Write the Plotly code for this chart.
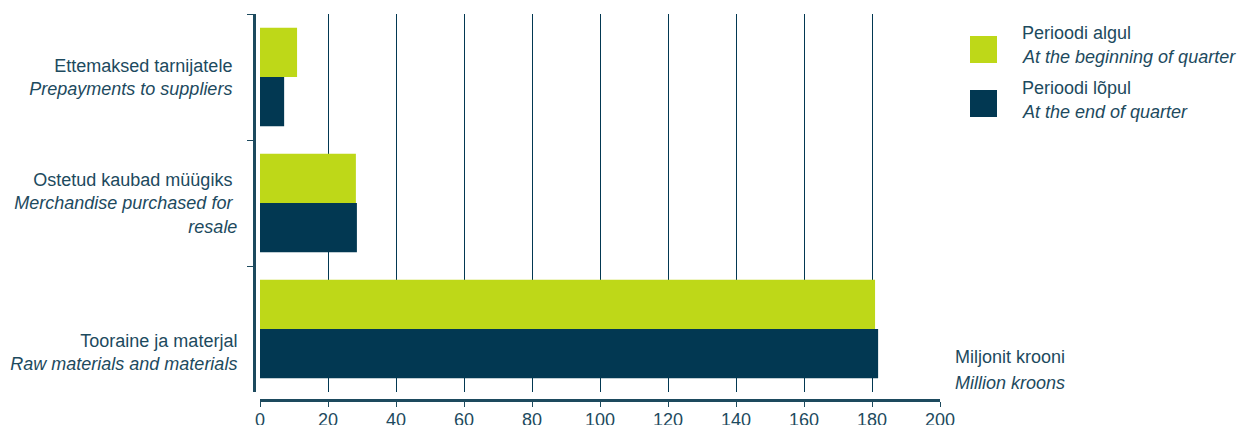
import plotly.graph_objects as go

# ---- data ----
categories = [
    "Ettemaksed tarnijatele <br><i>Prepayments to suppliers </i>",
    "Ostetud kaubad müügiks <br><i>Merchandise purchased for </i><br><i>resale</i>",
    "<br><br>Tooraine ja materjal<br><i>Raw materials and materials</i>",
]
series_names = ["Perioodi algul", "Perioodi lõpul"]
series_names_en = ["At the beginning of quarter", "At the end of quarter"]
begin_values = [10.9, 28.2, 180.9]
end_values = [7.1, 28.5, 181.8]
x_ticks = [0, 20, 40, 60, 80, 100, 120, 140, 160, 180, 200]
unit_et = "Miljonit krooni"
unit_en = "Million kroons"

colors = ["#BED818", "#023852"]
text_color = "#1d4a5e"
font_family = "Arial, Liberation Sans, sans-serif"
FS = 18

W, H = 1237, 425
def px(x):
    return x / W
def py(y):
    return 1 - y / H

fig = go.Figure()
for name, vals, col in zip(series_names, [begin_values, end_values], colors):
    fig.add_trace(go.Bar(
        y=categories, x=vals, orientation="h", name=name,
        marker=dict(color=col, line=dict(width=0)), showlegend=False,
        hoverinfo="skip",
    ))

fig.update_layout(
    template="none",
    width=W, height=H,
    margin=dict(l=0, r=0, t=0, b=0, pad=0, autoexpand=False),
    showlegend=False,
    paper_bgcolor="white", plot_bgcolor="white",
    barmode="group", bargap=0.22, bargroupgap=0,
    font=dict(family=font_family, size=FS, color=text_color),
    xaxis=dict(
        domain=[px(260), px(940)], anchor="free", position=py(400),
        range=[0, 200], tickvals=x_ticks, ticktext=[str(t) for t in x_ticks],
        showgrid=True, gridcolor="#023852", gridwidth=1, zeroline=False,
        showline=True, linecolor="#1d4a5e", linewidth=3,
        ticks="outside", ticklen=5, tickcolor="#1d4a5e", tickwidth=1,
        ticklabelstandoff=-3,
        tickfont=dict(size=FS, color=text_color), automargin=False,
        fixedrange=True,
    ),
    yaxis=dict(
        domain=[py(392), py(14)], anchor="free", position=px(254),
        autorange="reversed", type="category", tickson="boundaries",
        showgrid=False, zeroline=False,
        showline=True, linecolor="#1d4a5e", linewidth=3,
        ticks="outside", ticklen=6, tickcolor="#1d4a5e", tickwidth=1,
        ticklabelstandoff=12, automargin=False,
        tickfont=dict(size=FS, color=text_color),
        fixedrange=True,
    ),
)

# custom legend
legend_rows = [(36, 33, 57), (90, 88, 112)]
for (sq_top, y1, y2), col, et, en in zip(legend_rows, colors, series_names, series_names_en):
    fig.add_shape(type="rect", xref="paper", yref="paper",
                  x0=px(970), x1=px(997), y0=py(sq_top + 27), y1=py(sq_top),
                  fillcolor=col, line=dict(width=0))
    fig.add_annotation(xref="paper", yref="paper", x=px(1020), y=py(y1),
                       xanchor="left", yanchor="middle", showarrow=False, text=et,
                       font=dict(size=FS, color=text_color))
    fig.add_annotation(xref="paper", yref="paper", x=px(1020), y=py(y2),
                       xanchor="left", yanchor="middle", showarrow=False,
                       text="<i>" + en + "</i>", font=dict(size=FS, color=text_color))

fig.add_annotation(xref="paper", yref="paper", x=px(953), y=py(357),
                   xanchor="left", yanchor="middle", showarrow=False, text=unit_et,
                   font=dict(size=FS, color=text_color))
fig.add_annotation(xref="paper", yref="paper", x=px(953), y=py(383),
                   xanchor="left", yanchor="middle", showarrow=False,
                   text="<i>" + unit_en + "</i>", font=dict(size=FS, color=text_color))

fig.write_html("out.html", config={"displayModeBar": False},
               post_script="document.body.style.margin='0';document.body.style.overflow='hidden';")
